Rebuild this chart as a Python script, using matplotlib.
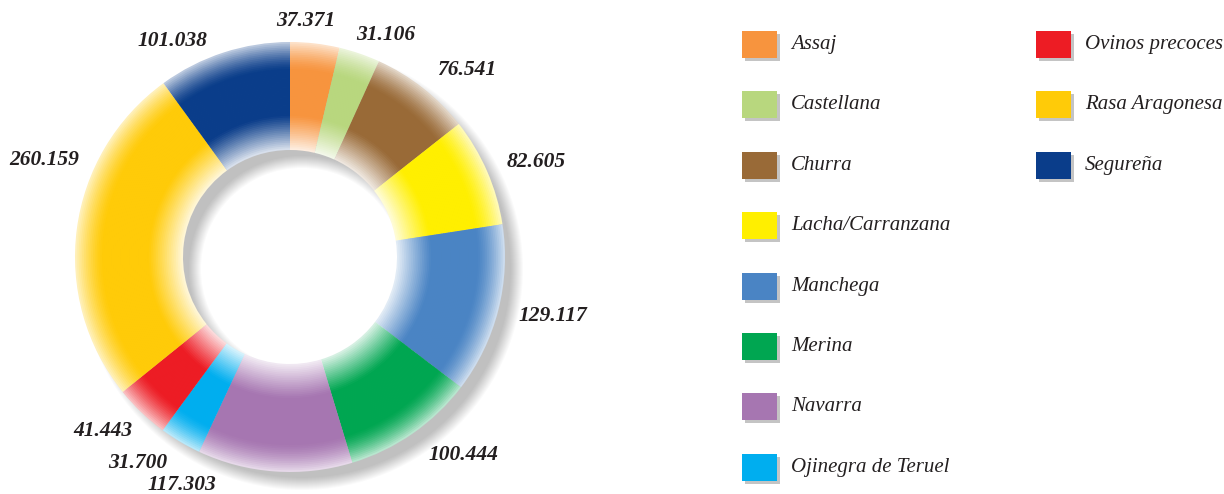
import matplotlib
matplotlib.use("Agg")
import matplotlib.pyplot as plt
from matplotlib.patches import Rectangle
import matplotlib.colors as mcolors
import numpy as np

# ---------------- data ----------------
breeds = ["Assaj", "Castellana", "Churra", "Lacha/Carranzana", "Manchega",
          "Merina", "Navarra", "Ojinegra de Teruel", "Ovinos precoces",
          "Rasa Aragonesa", "Segureña"]
values = [37.371, 31.106, 76.541, 82.605, 129.117,
          100.444, 117.303, 31.700, 41.443, 260.159, 101.038]
value_labels = ["37.371", "31.106", "76.541", "82.605", "129.117",
                "100.444", "117.303", "31.700", "41.443", "260.159", "101.038"]
colors = ["#F7943E", "#B8D77E", "#996A37", "#FFEF00", "#4A84C4",
          "#00A651", "#A676B1", "#00AEEF", "#ED1C24", "#FFCB08", "#0A3D8A"]

# ---------------- layout (pixel coordinates of the image) ----------------
W, H = 1224, 494
CX, CY = 290, 257          # donut centre (image coords, y down)
R_OUT, R_IN = 215, 107
SHADOW_OFF = 12
label_xy = [(306, 21), (386, 35), (467, 70), (536, 162), (553, 316),
            (463, 455), (182, 485), (138, 463), (103, 431), (44, 160), (172, 41)]
leg_cols_x = [742, 1036]
leg_row0, leg_dy, leg_rows = 44.5, 60.4, 8
sq_w, sq_h = 35, 27

fig = plt.figure(figsize=(W / 100, H / 100), dpi=100)
ax = fig.add_axes([0, 0, 1, 1])
cx, cy = CX, H - CY

# ---------------- soft shadow ----------------
n_blur = 13
for k in range(n_blur):
    s = k - n_blur // 2
    ro = R_OUT + s
    ri = R_IN - s
    ax.pie([1], radius=ro, center=(cx + SHADOW_OFF, cy - SHADOW_OFF),
           colors=["#000000"], startangle=90,
           wedgeprops=dict(width=ro - ri, linewidth=0, alpha=0.021))

# ---------------- gradient ring ----------------
def whiteness(t):
    if t < 0.26:
        u = 1 - t / 0.26
        return 0.75 * u ** 1.4
    if t > 0.68:
        u = (t - 0.68) / 0.32
        return 0.86 * u ** 1.1
    return 0.0

rgb = [np.array(mcolors.to_rgb(c)) for c in colors]
n_bands = 60
thick = R_OUT - R_IN
dr = thick / n_bands
for b in range(n_bands):
    r = R_OUT - b * dr
    t = (b + 0.5) / n_bands
    w = whiteness(t)
    cols = [tuple(c * (1 - w) + w) for c in rgb]
    width = dr + 0.8 if b < n_bands - 1 else dr
    ax.pie(values, radius=r, center=(cx, cy), colors=cols, startangle=90,
           counterclock=False, wedgeprops=dict(width=width, linewidth=0))

# ---------------- value labels ----------------
for (x, y), txt in zip(label_xy, value_labels):
    ax.text(x, H - y, txt, ha="center", va="center", fontsize=15.5,
            family="Liberation Serif", style="italic", weight="bold",
            color="#231f20")

# ---------------- legend ----------------
for i, (name, col) in enumerate(zip(breeds, colors)):
    c = i // leg_rows
    r = i % leg_rows
    x0 = leg_cols_x[c]
    yc = leg_row0 + r * leg_dy
    ax.add_patch(Rectangle((x0 + 3, H - (yc + sq_h / 2) - 3), sq_w, sq_h,
                           facecolor="#c4c4c4", edgecolor="none"))
    ax.add_patch(Rectangle((x0, H - (yc + sq_h / 2)), sq_w, sq_h,
                           facecolor=col, edgecolor="none"))
    ax.text(x0 + 49, H - yc, name, ha="left", va="center", fontsize=15,
            family="Liberation Serif", style="italic", color="#231f20")

ax.set_xlim(0, W)
ax.set_ylim(0, H)
ax.set_aspect("equal")
ax.axis("off")
fig.savefig("out.png", dpi=100, facecolor="white")
